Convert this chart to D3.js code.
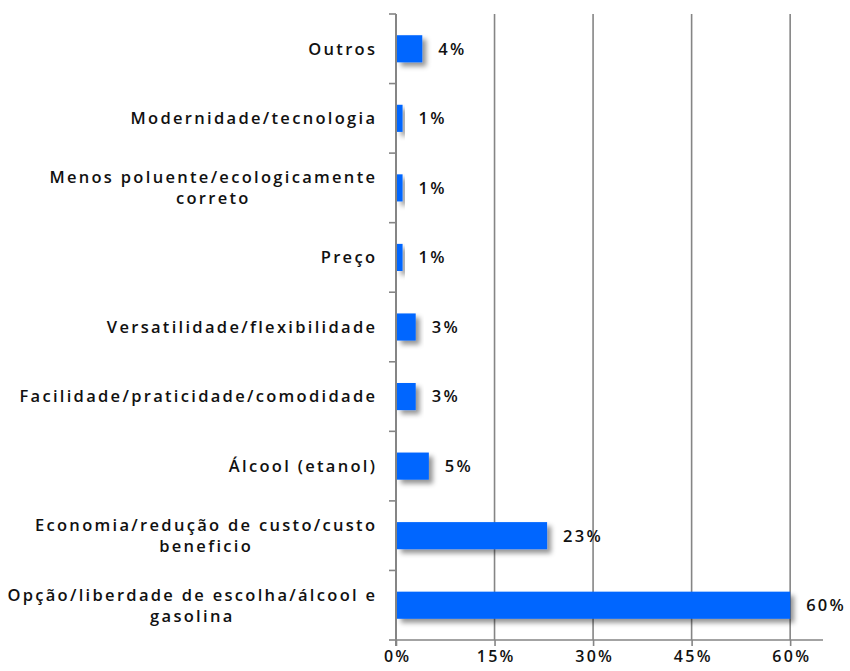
<!DOCTYPE html>
<html>
<head>
<meta charset="utf-8">
<script src="https://cdn.jsdelivr.net/npm/d3@7"></script>
<style>
  html, body { margin: 0; padding: 0; background: #ffffff; }
  svg { display: block; }
  text { font-family: "Open Sans", "DejaVu Sans", sans-serif; fill: #111; }
</style>
</head>
<body>
<script>
// Reasons for choosing a flex-fuel vehicle (share of answers)
const categories = [
  "Outros",
  "Modernidade/tecnologia",
  "Menos poluente/ecologicamente\ncorreto",
  "Preço",
  "Versatilidade/flexibilidade",
  "Facilidade/praticidade/comodidade",
  "Álcool (etanol)",
  "Economia/redução de custo/custo\nbeneficio",
  "Opção/liberdade de escolha/álcool e\ngasolina"
];
const values = [4, 1, 1, 1, 3, 3, 5, 23, 60];
const valueLabels = ["4%", "1%", "1%", "1%", "3%", "3%", "5%", "23%", "60%"];
const xTicks = [0, 15, 30, 45, 60];
const xTickLabels = ["0%", "15%", "30%", "45%", "60%"];

const W = 850, H = 671;
const plotLeft = 396, plotRight = 823, plotTop = 14, plotBottom = 640;
const FS = 16.5;  // font size of all chart text
const LS = 2.3;   // letter spacing of all chart text

const svg = d3.select("body").append("svg").attr("width", W).attr("height", H);

const defs = svg.append("defs");
const f = defs.append("filter").attr("id", "shadow")
  .attr("x", "-20%").attr("y", "-40%").attr("width", "160%").attr("height", "200%");
f.append("feDropShadow").attr("dx", 4).attr("dy", 4).attr("stdDeviation", 2.4)
  .attr("flood-color", "#000").attr("flood-opacity", 0.42);

const x = d3.scaleLinear().domain([0, 65]).range([plotLeft, plotRight]);
const y = d3.scaleBand().domain(categories).range([plotTop, plotBottom]).padding(0);

// vertical gridlines
svg.append("g").selectAll("line").data(xTicks.filter(d => d > 0)).join("line")
  .attr("x1", d => x(d)).attr("x2", d => x(d))
  .attr("y1", plotTop).attr("y2", plotBottom)
  .attr("stroke", "#858585").attr("stroke-width", 1.6);

// bottom axis
const xAxis = svg.append("g").attr("transform", `translate(0,${plotBottom})`)
  .call(d3.axisBottom(x).tickValues(xTicks).tickFormat((d, i) => xTickLabels[i]).tickSize(6).tickPadding(5));
xAxis.select(".domain").attr("stroke", "#858585").attr("stroke-width", 1.6)
  .attr("d", `M${plotLeft},0H${plotRight}`);
xAxis.selectAll(".tick line").attr("stroke", "#858585").attr("stroke-width", 1.6);
xAxis.selectAll(".tick text")
  .attr("font-size", 16).attr("font-weight", 600)
  .attr("font-family", "'Open Sans', 'DejaVu Sans', sans-serif")
  .attr("fill", "#111").style("letter-spacing", LS + "px")
  .attr("dx", LS / 2);

// left axis with ticks at band boundaries
const yBounds = categories.map(c => y(c)).concat([plotBottom]);
svg.append("g").selectAll("line").data(yBounds).join("line")
  .attr("x1", plotLeft - 7).attr("x2", plotLeft)
  .attr("y1", d => d).attr("y2", d => d)
  .attr("stroke", "#858585").attr("stroke-width", 1.6);
svg.append("line")
  .attr("x1", plotLeft).attr("x2", plotLeft).attr("y1", plotTop).attr("y2", plotBottom + 6)
  .attr("stroke", "#858585").attr("stroke-width", 2);

// bars
const barH = y.bandwidth() * 0.39;
svg.append("g").selectAll("rect").data(categories).join("rect")
  .attr("x", x(0) + 1)
  .attr("y", d => y(d) + y.bandwidth() / 2 - barH / 2)
  .attr("width", (d, i) => x(values[i]) - x(0) - 1)
  .attr("height", barH)
  .attr("fill", "#0066ff")
  .attr("filter", "url(#shadow)");

// value labels
svg.append("g").selectAll("text").data(categories).join("text")
  .attr("x", (d, i) => x(values[i]) + 16)
  .attr("y", d => y(d) + y.bandwidth() / 2)
  .attr("dy", "0.36em")
  .attr("font-size", FS).attr("font-weight", 600)
  .style("letter-spacing", LS + "px")
  .text((d, i) => valueLabels[i]);

// category labels, right-aligned block with centred lines
const labelRight = 375 + LS;
const lineH = 21;
categories.forEach(c => {
  const lines = c.split("\n");
  const g = svg.append("g");
  const texts = lines.map((ln, k) => g.append("text")
    .attr("y", y(c) + y.bandwidth() / 2 + (k - (lines.length - 1) / 2) * lineH)
    .attr("dy", "0.36em")
    .attr("font-size", FS).attr("font-weight", 600)
    .style("letter-spacing", LS + "px")
    .attr("text-anchor", "middle")
    .text(ln));
  const widths = texts.map(t => t.node().getComputedTextLength());
  const maxW = d3.max(widths);
  texts.forEach(t => t.attr("x", labelRight - maxW / 2));
});
</script>
</body>
</html>
